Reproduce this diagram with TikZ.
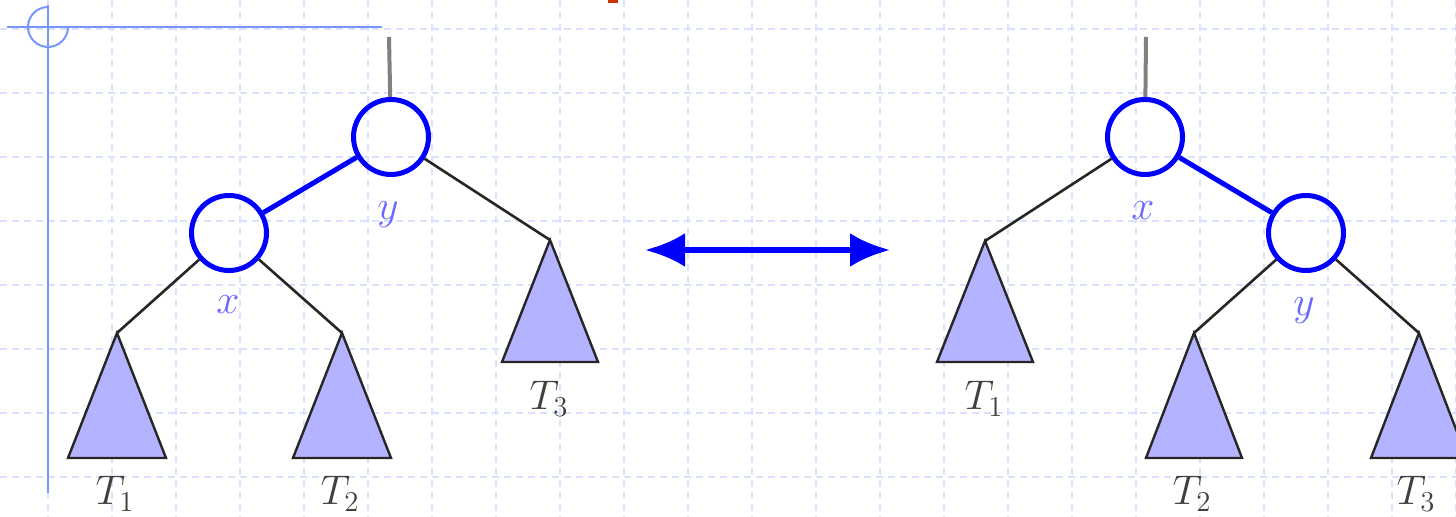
\documentclass[tikz,border=0pt]{standalone}
\usetikzlibrary{arrows.meta}
\definecolor{gridc}{RGB}{218,225,255}
\definecolor{crossc}{RGB}{120,150,255}
\definecolor{nodeblue}{RGB}{0,0,255}
\definecolor{labblue}{RGB}{105,105,255}
\definecolor{trifill}{RGB}{179,179,255}
\definecolor{redmark}{RGB}{204,51,0}
\begin{document}
\begin{tikzpicture}[x=0.5pt,y=-0.5pt,
 gridline/.style={draw=gridc,line width=1pt,dash pattern=on 3.5pt off 2.5pt},
 crossline/.style={draw=crossc,line width=1pt},
 bnode/.style={circle,draw=nodeblue,line width=2.5pt,minimum size=37.5pt,inner sep=0pt},
 blueedge/.style={draw=nodeblue,line width=2.5pt},
 blackedge/.style={draw=black!85,line width=1.3pt},
 stem/.style={draw=black!50,line width=2pt},
 subtree/.style={draw=black!85,line width=1.2pt,fill=trifill,line join=miter},
 vlabel/.style={text=labblue,font=\fontsize{20}{24}\selectfont,inner sep=0pt,anchor=base},
 tlabel/.style={text=black!75,font=\fontsize{20}{24}\selectfont,inner sep=0pt,anchor=base},
 swap/.style={draw=nodeblue,line width=3pt,{Latex[length=20pt,width=17pt]}-{Latex[length=20pt,width=17pt]}},
]
\useasboundingbox (0,0) rectangle (1456,517);
\clip (0,0) rectangle (1456,517);
% background grid
\foreach \gx in {48,112,...,1456} \draw[gridline] (\gx,0) -- (\gx,517);
\foreach \gy in {29,93,...,477} \draw[gridline] (0,\gy) -- (1456,\gy);
% crosshair mark
\draw[crossline] (7,27) -- (382,27);
\draw[crossline] (48,5) -- (48,493);
\draw[crossline] (48,7) arc[start angle=270,end angle=0,radius=20];
% red mark
\fill[redmark] (608,0) rectangle (618,3);

% ---------- left tree ----------
\node[bnode] (ly) at (391,137) {};
\node[bnode] (lx) at (229,233) {};
\coordinate (ltop) at (389,37);
\coordinate (lT1) at (117,333);
\coordinate (lT2) at (342,333);
\coordinate (lT3) at (550,240);
\draw[subtree] (lT1) -- (166,458) -- (68,458) -- cycle;
\draw[subtree] (lT2) -- (391,458) -- (293,458) -- cycle;
\draw[subtree] (lT3) -- (598,362) -- (502,362) -- cycle;
\draw[stem] (ltop) -- (ly);
\draw[blueedge] (lx) -- (ly);
\draw[blackedge] (ly) -- (lT3);
\draw[blackedge] (lx) -- (lT1);
\draw[blackedge] (lx) -- (lT2);
\node[vlabel] (lylab) at (388,220) {$y$};
\node[vlabel] (lxlab) at (228,314) {$x$};
\node[tlabel] (lT1lab) at (115,505) {$T_1$};
\node[tlabel] (lT2lab) at (340,505) {$T_2$};
\node[tlabel] (lT3lab) at (549,410) {$T_3$};

% ---------- arrow ----------
\coordinate (aleft) at (645,250);
\coordinate (aright) at (890,250);
\draw[swap] (aleft) -- (aright);

% ---------- right tree ----------
\node[bnode] (rx) at (1145,137) {};
\node[bnode] (ry) at (1306,233) {};
\coordinate (rtop) at (1146,37);
\coordinate (rT1) at (985,241);
\coordinate (rT2) at (1194,333);
\coordinate (rT3) at (1419,333);
\draw[subtree] (rT1) -- (1033,362) -- (937,362) -- cycle;
\draw[subtree] (rT2) -- (1242,458) -- (1146,458) -- cycle;
\draw[subtree] (rT3) -- (1467,458) -- (1371,458) -- cycle;
\draw[stem] (rtop) -- (rx);
\draw[blueedge] (rx) -- (ry);
\draw[blackedge] (rx) -- (rT1);
\draw[blackedge] (ry) -- (rT2);
\draw[blackedge] (ry) -- (rT3);
\node[vlabel] (rxlab) at (1143,220) {$x$};
\node[vlabel] (rylab) at (1304,316) {$y$};
\node[tlabel] (rT1lab) at (984,410) {$T_1$};
\node[tlabel] (rT2lab) at (1192,505) {$T_2$};
\node[tlabel] (rT3lab) at (1416,505) {$T_3$};
\end{tikzpicture}
\end{document}
